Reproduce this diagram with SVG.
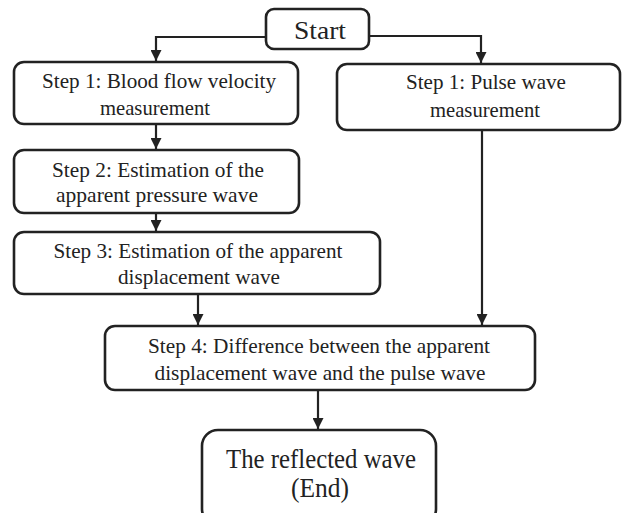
<svg xmlns="http://www.w3.org/2000/svg" width="622" height="513" viewBox="0 0 622 513">
<style>
.box{fill:#fff;stroke:#222;stroke-width:2.6}
.t{font-family:"Liberation Serif","Times New Roman",serif;fill:#222;text-anchor:middle;font-size:22px}
.c{fill:none;stroke:#222;stroke-width:2.2}
</style>
<defs>
<marker id="ah" viewBox="0 0 10 10" refX="10" refY="5" markerWidth="5" markerHeight="5" markerUnits="strokeWidth" orient="auto">
<path d="M0,0 L10,5 L0,10 z" fill="#222"/>
</marker>
</defs>
<rect width="622" height="513" fill="#fff"/>
<g id="connectors">
<path class="c" d="M266,37 H156 V61" marker-end="url(#ah)"/>
<path class="c" d="M369,36 H481 V63" marker-end="url(#ah)"/>
<path class="c" d="M156,124 V149" marker-end="url(#ah)"/>
<path class="c" d="M156,213 V231" marker-end="url(#ah)"/>
<path class="c" d="M198,294 V325" marker-end="url(#ah)"/>
<path class="c" d="M482,130 V325" marker-end="url(#ah)"/>
<path class="c" d="M318,390 V429" marker-end="url(#ah)"/>
</g>
<g id="start">
<rect class="box" x="266" y="9" width="103" height="40" rx="8"/>
<text class="t" x="320" y="39" style="font-size:25px" textLength="52" lengthAdjust="spacingAndGlyphs">Start</text>
</g>
<g id="step1a">
<rect class="box" x="14" y="62" width="284" height="62" rx="10"/>
<text class="t" x="159" y="88" textLength="234" lengthAdjust="spacingAndGlyphs">Step 1: Blood flow velocity</text>
<text class="t" x="155" y="115" textLength="110" lengthAdjust="spacingAndGlyphs">measurement</text>
</g>
<g id="step1b">
<rect class="box" x="337" y="64" width="283" height="66" rx="10"/>
<text class="t" x="486" y="89" textLength="160" lengthAdjust="spacingAndGlyphs">Step 1: Pulse wave</text>
<text class="t" x="485" y="117" textLength="110" lengthAdjust="spacingAndGlyphs">measurement</text>
</g>
<g id="step2">
<rect class="box" x="14" y="150" width="285" height="63" rx="10"/>
<text class="t" x="158" y="177" textLength="212" lengthAdjust="spacingAndGlyphs">Step 2: Estimation of the</text>
<text class="t" x="157" y="202" textLength="202" lengthAdjust="spacingAndGlyphs">apparent pressure  wave</text>
</g>
<g id="step3">
<rect class="box" x="14" y="232" width="366" height="62" rx="10"/>
<text class="t" x="198" y="258" textLength="289" lengthAdjust="spacingAndGlyphs">Step 3: Estimation of the apparent</text>
<text class="t" x="199" y="284" textLength="162" lengthAdjust="spacingAndGlyphs">displacement wave</text>
</g>
<g id="step4">
<rect class="box" x="105" y="326" width="430" height="64" rx="10"/>
<text class="t" x="319" y="353" textLength="342" lengthAdjust="spacingAndGlyphs">Step 4: Difference between the apparent</text>
<text class="t" x="320" y="380" textLength="331" lengthAdjust="spacingAndGlyphs">displacement wave and the pulse wave</text>
</g>
<g id="end">
<rect class="box" x="202" y="430" width="234" height="95" rx="16"/>
<text class="t" x="321" y="468" style="font-size:27px" textLength="190" lengthAdjust="spacingAndGlyphs">The reflected wave</text>
<text class="t" x="320" y="497" style="font-size:27px" textLength="58" lengthAdjust="spacingAndGlyphs">(End)</text>
</g>
</svg>
